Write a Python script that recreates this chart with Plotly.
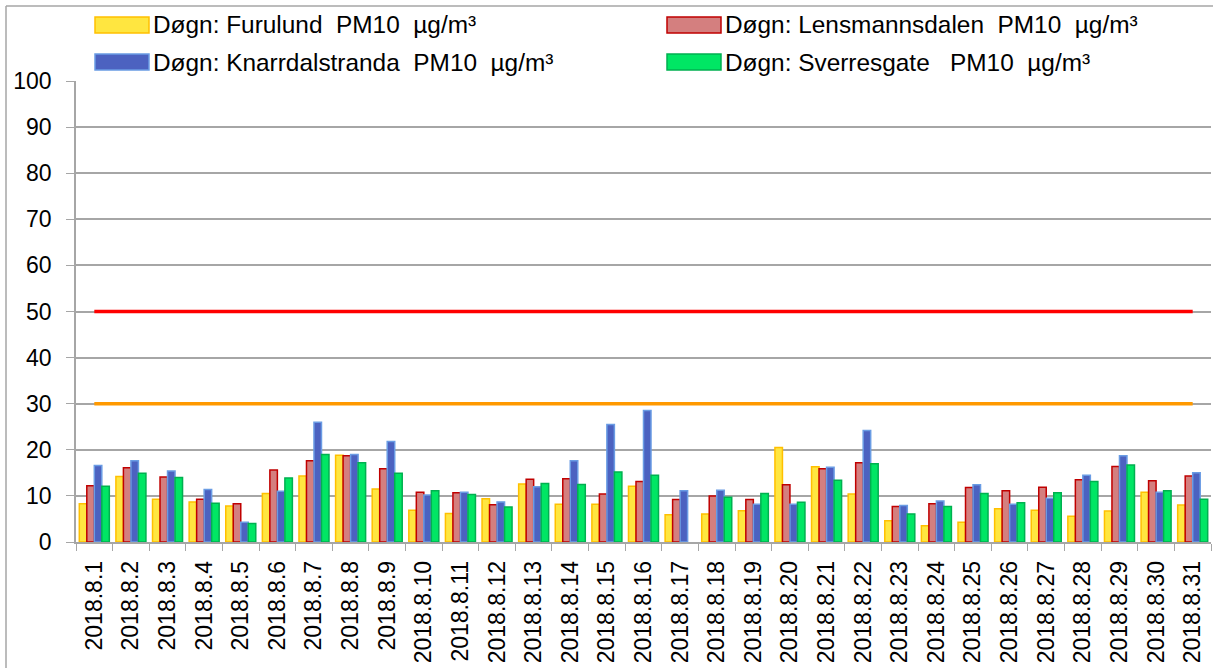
import plotly.graph_objects as go

dates = [f"2018.8.{d}" for d in range(1, 32)]

furulund = [8.3, 14.2, 9.3, 8.7, 7.8, 10.5, 14.3, 18.8, 11.5, 6.9,
            6.2, 9.4, 12.6, 8.2, 8.2, 12.1, 5.9, 6.1, 6.8, 20.5,
            16.3, 10.4, 4.6, 3.5, 4.3, 7.2, 6.9, 5.6, 6.7, 10.8, 8.0]
lensmannsdalen = [12.2, 16.1, 14.1, 9.3, 8.3, 15.6, 17.6, 18.7, 15.9, 10.8,
                  10.7, 8.1, 13.6, 13.7, 10.4, 13.1, 9.2, 10.0, 9.2, 12.4,
                  15.9, 17.2, 7.7, 8.3, 11.8, 11.1, 11.9, 13.5, 16.4, 13.3, 14.3]
knarrdalstranda = [16.6, 17.6, 15.4, 11.4, 4.3, 11.0, 26.0, 19.0, 21.8, 10.2,
                   10.8, 8.7, 12.0, 17.6, 25.5, 28.5, 11.1, 11.2, 8.2, 8.2,
                   16.2, 24.2, 7.9, 8.9, 12.4, 8.2, 9.5, 14.5, 18.7, 10.8, 15.0]
sverresgate = [12.1, 14.9, 14.0, 8.4, 4.0, 13.9, 19.0, 17.2, 14.9, 11.1,
               10.3, 7.6, 12.7, 12.5, 15.2, 14.5, None, 9.7, 10.5, 8.6,
               13.4, 17.0, 6.1, 7.7, 10.5, 8.5, 10.7, 13.1, 16.7, 11.1, 9.3]
limit_50 = [50] * 31
limit_30 = [30] * 31

y_ticks = list(range(0, 101, 10))

NB = "\u00a0"
series = [
    (f"Døgn: Furulund{NB}{NB}PM10{NB}{NB}µg/m³", furulund, "#FFE640", "#FFC000"),
    (f"Døgn: Lensmannsdalen{NB}{NB}PM10{NB}{NB}µg/m³", lensmannsdalen, "#D47F7F", "#C00000"),
    (f"Døgn: Knarrdalstranda{NB}{NB}PM10{NB}{NB}µg/m³", knarrdalstranda, "#4C62C0", "#6A9CE4"),
    (f"Døgn: Sverresgate{NB}{NB}{NB}PM10{NB}{NB}µg/m³", sverresgate, "#00E664", "#00B050"),
]

fig = go.Figure()
for name, vals, fill, edge in series:
    fig.add_trace(go.Bar(x=dates, y=vals, name=name, marker=dict(color=fill, line=dict(color=edge, width=1.5)),
                         showlegend=False))

fig.add_trace(go.Scatter(x=dates, y=limit_50, mode="lines", line=dict(color="#FF0000", width=3.5), showlegend=False))
fig.add_trace(go.Scatter(x=dates, y=limit_30, mode="lines", line=dict(color="#FF9900", width=3.5), showlegend=False))

L, R, T, B = 76, 2, 81, 126
W, H = 1213, 668
pw = W - L - R
ph = H - T - B

def px_x(px):
    return (px - L) / pw

def px_y(py):
    return (H - B - py) / ph

shapes = [
    dict(type="line", xref="paper", yref="paper", x0=px_x(6), x1=px_x(1215), y0=px_y(6), y1=px_y(6),
         line=dict(color="#A6A6A6", width=1.5)),
    dict(type="line", xref="paper", yref="paper", x0=px_x(6), x1=px_x(6), y0=px_y(6), y1=px_y(670),
         line=dict(color="#A6A6A6", width=1.5)),
]
annotations = []
legend_pos = [(95, 25), (667, 25), (95, 62), (667, 62)]
for (name, vals, fill, edge), (sx, sy) in zip(series, legend_pos):
    shapes.append(dict(type="rect", xref="paper", yref="paper",
                       x0=px_x(sx), x1=px_x(sx + 54), y0=px_y(sy + 8), y1=px_y(sy - 8),
                       fillcolor=fill, line=dict(color=edge, width=1.5)))
    annotations.append(dict(xref="paper", yref="paper", x=px_x(sx + 56), y=px_y(sy), text=name,
                            showarrow=False, xanchor="left", yanchor="middle",
                            font=dict(family="Liberation Sans Narrow, Liberation Sans, Arial", size=24.4, color="#000000")))

fig.update_layout(
    width=W, height=H,
    margin=dict(l=L, r=R, t=T, b=B, autoexpand=False),
    paper_bgcolor="white", plot_bgcolor="white",
    barmode="group", bargap=0.18, bargroupgap=0,
    shapes=shapes, annotations=annotations,
    font=dict(family="Liberation Sans, Arial", size=23, color="#000000"),
)
fig.update_xaxes(
    type="category", tickangle=-90, tickson="boundaries", ticks="outside", ticklen=7,
    tickcolor="#A6A6A6", showline=True, linecolor="#A6A6A6", linewidth=1.5,
    showgrid=False, ticklabelstandoff=8, tickfont=dict(size=23, color="#000000"),
)
fig.update_yaxes(
    range=[0, 100], tickvals=y_ticks, ticks="outside", ticklen=8, tickcolor="#A6A6A6",
    showline=True, linecolor="#A6A6A6", linewidth=1.5,
    showgrid=True, gridcolor="#A6A6A6", gridwidth=1.5, zeroline=False,
    ticklabelstandoff=10, tickfont=dict(size=23, color="#000000"),
)

fig.write_html("out.html", config={"displayModeBar": False},
               post_script="document.body.style.margin='0';document.body.style.overflow='hidden';")
